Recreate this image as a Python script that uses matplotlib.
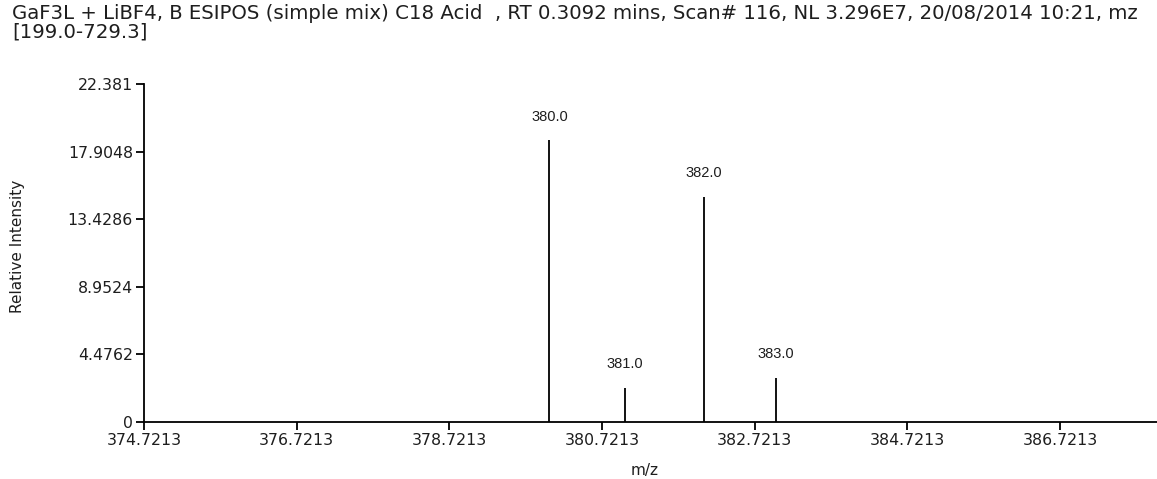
import matplotlib
matplotlib.use("Agg")
import matplotlib.pyplot as plt

mz = [380.032, 381.018, 382.053, 383.0]
intensity = [18.64, 2.27, 14.9, 2.93]
peak_labels = ["380.0", "381.0", "382.0", "383.0"]
yticks = [0, 4.4762, 8.9524, 13.4286, 17.9048, 22.381]
ytick_labels = ["0", "4.4762", "8.9524", "13.4286", "17.9048", "22.381"]
xticks = [374.7213, 376.7213, 378.7213, 380.7213, 382.7213, 384.7213, 386.7213]
xtick_labels = ["374.7213", "376.7213", "378.7213", "380.7213", "382.7213", "384.7213", "386.7213"]
title_line1 = "GaF3L + LiBF4, B ESIPOS (simple mix) C18 Acid  , RT 0.3092 mins, Scan# 116, NL 3.296E7, 20/08/2014 10:21, mz"
title_line2 = "[199.0-729.3]"

TXT = "#1e1e1e"
W, H = 1157, 479
fig = plt.figure(figsize=(W / 100, H / 100), dpi=100)
left, right, top, bottom = 144, 1157, 84, 422
ax = fig.add_axes([left / W, 1 - bottom / H, (right - left) / W, (bottom - top) / H])

ax.vlines(mz, 0, intensity, colors="black", linewidth=1.3)
for x, y, lab in zip(mz, intensity, peak_labels):
    ax.annotate(lab, (x, y), xytext=(0, 12), textcoords="offset points",
                ha="center", va="bottom", fontsize=10.5, family="Liberation Sans", color=TXT)

ax.set_xlim(374.7213, 387.99)
ax.set_ylim(0, 22.381)
ax.set_xticks(xticks)
ax.set_xticklabels(xtick_labels)
ax.set_yticks(yticks)
ax.set_yticklabels(ytick_labels)
ax.tick_params(direction="out", length=6, width=1.3, labelsize=11.3, pad=2,
               colors="black", labelcolor=TXT)
for s in ["top", "right"]:
    ax.spines[s].set_visible(False)
for s in ["left", "bottom"]:
    ax.spines[s].set_linewidth(1.3)

fig.text(645 / W, 1 - 471 / H, "m/z", ha="center", va="center", fontsize=11, color=TXT)
fig.text(18 / W, 1 - 246 / H, "Relative Intensity", ha="center", va="center",
         rotation=90, fontsize=11, color=TXT)

fig.text(12 / W, 1 - 19 / H, title_line1, ha="left", va="baseline", fontsize=14.2, color=TXT)
fig.text(12 / W, 1 - 37 / H, title_line2, ha="left", va="baseline", fontsize=14.2, color=TXT)

fig.savefig("out.png", dpi=100)
